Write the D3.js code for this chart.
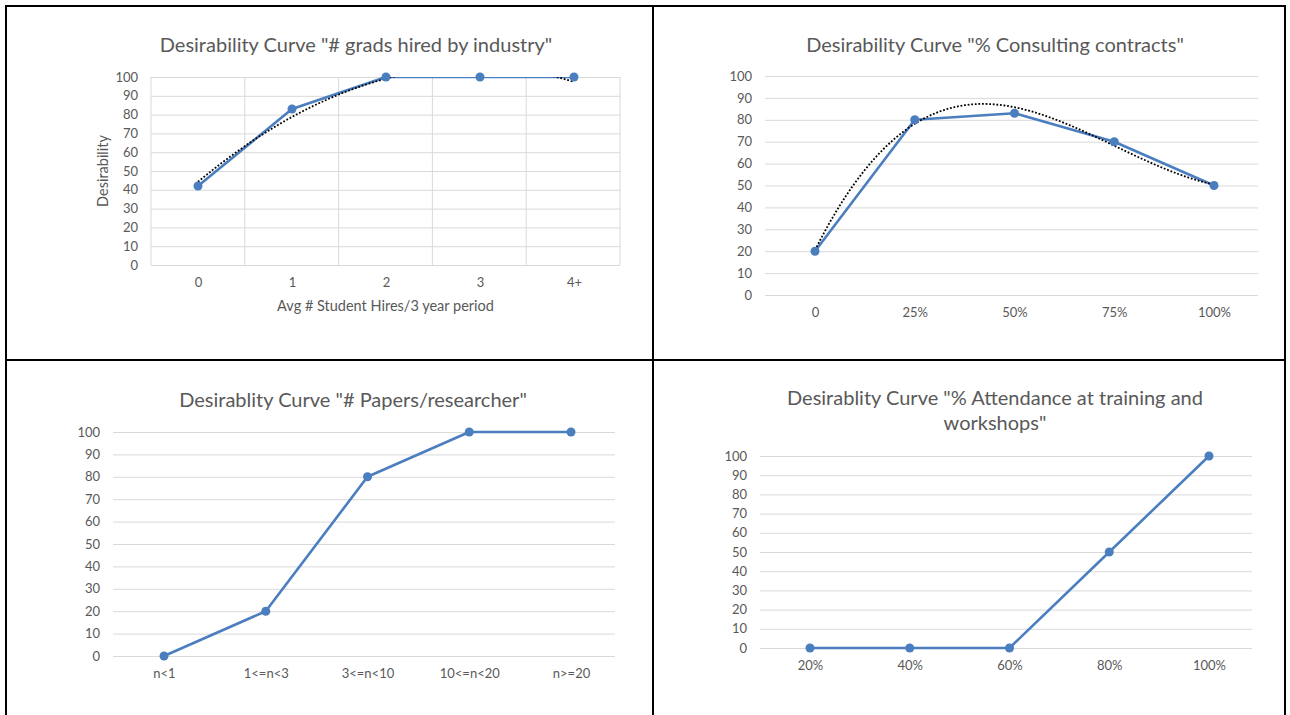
<html>
<head>
<script src="https://d3js.org/d3.v7.min.js"></script>
<title>Desirability Curves</title>
<style type="text/css">
	body { margin: 0; background: #fff; }
	text { font-family: Lato, "Open Sans", sans-serif; fill: #595959; }
	.grid line { stroke: #d9d9d9; stroke-width: 1; }
	.tick text { font-size: 13px; }
</style>
</head>
<body>
<div id="chart"></div>
<script>

// data
var yTicks = [0, 10, 20, 30, 40, 50, 60, 70, 80, 90, 100];

var hiresCats = ["0", "1", "2", "3", "4+"];
var hiresVals = [42, 83, 100, 100, 100];

var consultCats = ["0", "25%", "50%", "75%", "100%"];
var consultVals = [20, 80, 83, 70, 50];

var papersCats = ["n<1", "1<=n<3", "3<=n<10", "10<=n<20", "n>=20"];
var papersVals = [0, 20, 80, 100, 100];

var attendCats = ["20%", "40%", "60%", "80%", "100%"];
var attendVals = [0, 0, 0, 50, 100];

var blue = "#4a7ebf";

// one entry per panel: layout + which arrays to use
var panels = [
	{ title: ['Desirability Curve "# grads hired by industry"'], tx: 356, ty: [52],
	  cats: hiresCats, vals: hiresVals, L: 151, R: 620, top: 77, bottom: 265, first: 198, last: 574,
	  trend: 2, vgrid: true, clip: true,
	  yTitle: "Desirability", xTitle: "Avg # Student Hires/3 year period" },
	{ title: ['Desirability Curve "% Consulting contracts"'], tx: 995, ty: [52],
	  cats: consultCats, vals: consultVals, L: 765, R: 1258, top: 76, bottom: 295, first: 815, last: 1214,
	  trend: 3 },
	{ title: ['Desirablity Curve "# Papers/researcher"'], tx: 353, ty: [407],
	  cats: papersCats, vals: papersVals, L: 113, R: 615, top: 432, bottom: 656, first: 164, last: 571 },
	{ title: ['Desirablity Curve "% Attendance at training and', 'workshops"'], tx: 995, ty: [405, 430],
	  cats: attendCats, vals: attendVals, L: 760, R: 1252, top: 456, bottom: 648, first: 810, last: 1209 }
];

// least squares polynomial fit, like Excel's polynomial trendline (x = 1..n)
function polyFit(vals, order) {
	var n = order + 1, A = [], i, j, k;
	for (i = 0; i < n; i++) {
		A.push([]);
		for (j = 0; j <= n; j++) A[i].push(0);
	}
	vals.forEach(function(v, idx) {
		var x = idx + 1;
		for (i = 0; i < n; i++) {
			for (j = 0; j < n; j++) A[i][j] += Math.pow(x, i + j);
			A[i][n] += v * Math.pow(x, i);
		}
	});
	for (i = 0; i < n; i++) {
		var p = A[i][i];
		for (j = i; j <= n; j++) A[i][j] /= p;
		for (k = 0; k < n; k++) {
			if (k === i) continue;
			var f = A[k][i];
			for (j = i; j <= n; j++) A[k][j] -= f * A[i][j];
		}
	}
	var coef = A.map(function(r) { return r[n]; });
	return function(x) {
		return coef.reduce(function(s, c, p) { return s + c * Math.pow(x, p); }, 0);
	};
}

var svg = d3.select("#chart").append("svg")
	.attr("width", 1290)
	.attr("height", 715);

svg.append("rect").attr("width", 1290).attr("height", 715).attr("fill", "#fff");

panels.forEach(function(p, pi) {
	var g = svg.append("g");
	var y = d3.scaleLinear().domain([0, 100]).range([p.bottom, p.top]);
	var x = d3.scalePoint().domain(p.cats).range([p.first, p.last]);

	// horizontal gridlines
	var grid = g.append("g").attr("class", "grid")
		.attr("transform", "translate(" + p.L + ",0)")
		.call(d3.axisLeft(y).tickValues(yTicks).tickSize(-(p.R - p.L)).tickFormat(""));
	grid.select(".domain").remove();

	if (p.vgrid) {
		var xb = d3.scaleBand().domain(p.cats).range([p.L, p.R]);
		var edges = p.cats.map(function(c) { return xb(c); }).concat([p.R]);
		g.append("g").attr("class", "grid").selectAll("line")
			.data(edges).enter().append("line")
			.attr("x1", function(d) { return d; }).attr("x2", function(d) { return d; })
			.attr("y1", p.top).attr("y2", p.bottom);
	}

	var ya = g.append("g")
		.attr("transform", "translate(" + p.L + ",0)")
		.call(d3.axisLeft(y).tickValues(yTicks).tickSize(0).tickPadding(13));
	ya.select(".domain").remove();

	var xa = g.append("g")
		.attr("transform", "translate(0," + p.bottom + ")")
		.call(d3.axisBottom(x).tickSize(0).tickPadding(13));
	xa.select(".domain").remove();

	var marks = g.append("g");
	if (p.clip) {
		svg.append("clipPath").attr("id", "clip" + pi).append("rect")
			.attr("x", p.L).attr("y", p.top).attr("width", p.R - p.L).attr("height", p.bottom - p.top);
		marks.attr("clip-path", "url(#clip" + pi + ")");
	}

	var pts = p.cats.map(function(c, i) { return { c: c, v: p.vals[i] }; });

	marks.append("path")
		.datum(pts)
		.attr("fill", "none")
		.attr("stroke", blue)
		.attr("stroke-width", 2.6)
		.attr("stroke-linejoin", "round")
		.attr("d", d3.line().x(function(d) { return x(d.c); }).y(function(d) { return y(d.v); }));

	if (p.trend) {
		var fit = polyFit(p.vals, p.trend);
		var xi = d3.scaleLinear().domain([1, p.cats.length]).range([p.first, p.last]);
		var tpts = d3.range(1, p.cats.length + 0.001, 0.05);
		marks.append("path")
			.datum(tpts)
			.attr("fill", "none")
			.attr("stroke", "#000")
			.attr("stroke-width", 1.8)
			.attr("stroke-dasharray", "1.8,1.8")
			.attr("d", d3.line().x(function(t) { return xi(t); }).y(function(t) { return y(fit(t)); }));
	}

	g.selectAll("circle.pt")
		.data(pts).enter().append("circle")
		.attr("class", "pt")
		.attr("cx", function(d) { return x(d.c); })
		.attr("cy", function(d) { return y(d.v); })
		.attr("r", 4.5)
		.attr("fill", blue);

	p.title.forEach(function(t, i) {
		g.append("text")
			.attr("x", p.tx).attr("y", p.ty[i])
			.attr("text-anchor", "middle")
			.style("font-size", "20px")
			.text(t);
	});

	if (p.yTitle) {
		g.append("text")
			.attr("transform", "translate(108," + ((p.top + p.bottom) / 2) + ") rotate(-90)")
			.attr("text-anchor", "middle")
			.style("font-size", "14.5px")
			.text(p.yTitle);
	}
	if (p.xTitle) {
		g.append("text")
			.attr("x", (p.L + p.R) / 2).attr("y", p.bottom + 46)
			.attr("text-anchor", "middle")
			.style("font-size", "14.5px")
			.text(p.xTitle);
	}
});

// black frame around the four panels
var frame = [
	[5, 6, 1286, 6], [6, 5, 6, 715], [1285, 5, 1285, 715],
	[653, 6, 653, 715], [6, 360, 1285, 360]
];
svg.selectAll("line.frame")
	.data(frame).enter().append("line")
	.attr("class", "frame")
	.attr("x1", function(d) { return d[0]; }).attr("y1", function(d) { return d[1]; })
	.attr("x2", function(d) { return d[2]; }).attr("y2", function(d) { return d[3]; })
	.attr("stroke", "#000").attr("stroke-width", 2);

</script>
</body>
</html>
